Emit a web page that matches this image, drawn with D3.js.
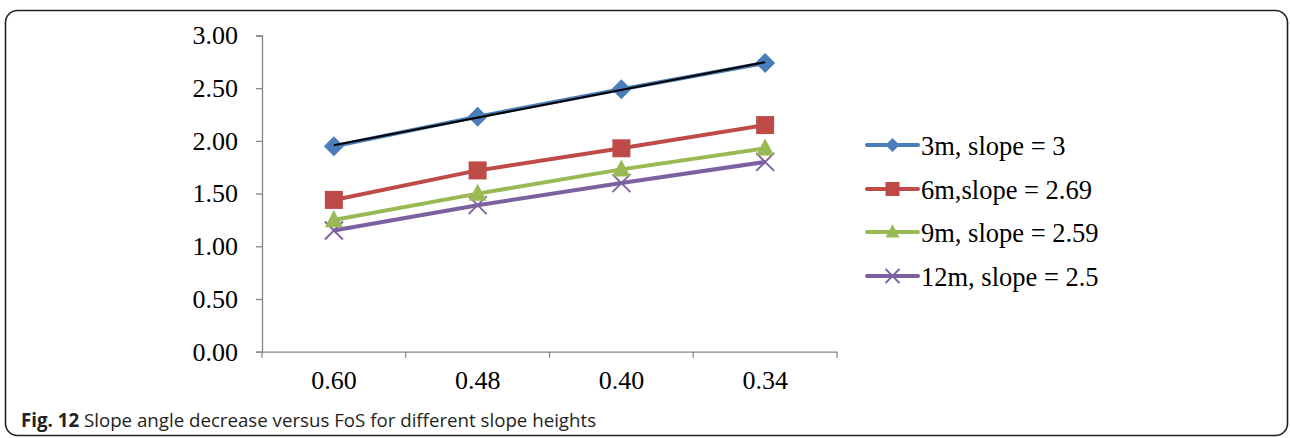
<!DOCTYPE html>
<html><head><meta charset="utf-8">
<script src="https://cdn.jsdelivr.net/npm/d3@7"></script>
<style>
html,body{margin:0;padding:0;background:#fff;}
svg{display:block;}
</style></head>
<body>
<svg id="chart" width="1290" height="438"></svg>
<script>
const categories = ["0.60","0.48","0.40","0.34"];
const seriesNames = ["3m, slope = 3","6m,slope = 2.69","9m, slope = 2.59","12m, slope = 2.5"];
const values3m  = [1.95, 2.23, 2.49, 2.74];
const values6m  = [1.44, 1.72, 1.93, 2.15];
const values9m  = [1.25, 1.50, 1.73, 1.93];
const values12m = [1.15, 1.39, 1.60, 1.80];
const yTicks = [0, 0.5, 1.0, 1.5, 2.0, 2.5, 3.0];
const colors = ["#4a7ebb","#be4b48","#98b954","#7d60a0"];
const symbols = ["diamond","square","triangle","cross"];

const series = seriesNames.map((n,i)=>({name:n, values:[values3m,values6m,values9m,values12m][i], color:colors[i], sym:symbols[i]}));

const svg = d3.select("#chart");
// frame
svg.append("rect").attr("x",5.5).attr("y",10.5).attr("width",1282).attr("height",425)
  .attr("rx",12).attr("fill","none").attr("stroke","#231f20").attr("stroke-width",1.6);

const x0 = 262, x1 = 837, yTop = 35.5, yBot = 351.7;
const x = d3.scaleBand().domain(categories).range([x0,x1]);
const y = d3.scaleLinear().domain([0,3]).range([yBot,yTop]);
const axisColor = "#868686";
const font = "'Liberation Serif','Times New Roman',serif";

// y axis
const yAxis = svg.append("g").attr("transform",`translate(${x0},0)`)
  .call(d3.axisLeft(y).tickValues(yTicks).tickFormat(d3.format(".2f")).tickSize(6).tickPadding(18));
yAxis.select(".domain").attr("stroke",axisColor).attr("stroke-width",1.3);
yAxis.selectAll(".tick line").attr("stroke",axisColor).attr("stroke-width",1.3);
yAxis.selectAll("text").attr("font-family",font).attr("font-size",26).attr("fill","#000").attr("dy","0.32em");

// x axis
const xAxis = svg.append("g").attr("transform",`translate(0,${yBot})`)
  .call(d3.axisBottom(x).tickSize(0).tickPadding(19));
xAxis.select(".domain").attr("stroke",axisColor).attr("stroke-width",1.3);
xAxis.selectAll("text").attr("font-family",font).attr("font-size",26).attr("fill","#000");
// category boundary ticks
const bounds = categories.map(c=>x(c)).concat([x1]);
xAxis.selectAll(".bt").data(bounds).enter().append("line")
  .attr("x1",d=>d).attr("x2",d=>d).attr("y1",0).attr("y2",6)
  .attr("stroke",axisColor).attr("stroke-width",1.3);

const cx = c => x(c) + x.bandwidth()/2;

function drawMarker(g, sym, color, px, py, s){
  if(sym==="diamond"){
    g.append("path").attr("d",`M${px},${py-s}L${px+s},${py}L${px},${py+s}L${px-s},${py}Z`).attr("fill",color);
  } else if(sym==="square"){
    g.append("rect").attr("x",px-s).attr("y",py-s).attr("width",2*s).attr("height",2*s).attr("fill",color);
  } else if(sym==="triangle"){
    g.append("path").attr("d",`M${px},${py-s*1.1}L${px+s},${py+s*0.8}L${px-s},${py+s*0.8}Z`).attr("fill",color);
  } else {
    g.append("path").attr("d",`M${px-s},${py-s}L${px+s},${py+s}M${px-s},${py+s}L${px+s},${py-s}`)
      .attr("stroke",color).attr("stroke-width",1.8).attr("fill","none");
  }
}

const line = d3.line().x((d,i)=>cx(categories[i])).y(d=>y(d));
const plot = svg.append("g");
series.slice().reverse().forEach(s=>{
  plot.append("path").datum(s.values).attr("d",line).attr("fill","none")
    .attr("stroke",s.color).attr("stroke-width",4).attr("stroke-linejoin","round");
  s.values.forEach((v,i)=>drawMarker(plot, s.sym, s.color, cx(categories[i]), y(v), s.sym==="diamond"?10:9));
});

// linear trend line on 3m series
const xs = values3m.map((v,i)=>i);
const mx = d3.mean(xs), my = d3.mean(values3m);
const slope = d3.sum(xs.map((xi,i)=>(xi-mx)*(values3m[i]-my))) / d3.sum(xs.map(xi=>(xi-mx)**2));
const icpt = my - slope*mx;
plot.append("line")
  .attr("x1",cx(categories[0])).attr("y1",y(icpt))
  .attr("x2",cx(categories[3])).attr("y2",y(icpt+slope*3))
  .attr("stroke","#000").attr("stroke-width",2);

// legend
const legY = [145,189,232,276];
const leg = svg.append("g");
series.forEach((s,i)=>{
  const g = leg.append("g");
  g.append("line").attr("x1",867).attr("x2",918).attr("y1",legY[i]).attr("y2",legY[i])
    .attr("stroke",s.color).attr("stroke-width",4).attr("stroke-linecap","round");
  drawMarker(g, s.sym, s.color, 892.5, legY[i], 7);
  g.append("text").attr("x",921).attr("y",legY[i]).attr("dy","0.36em")
    .attr("font-family",font).attr("font-size",26.5).text(s.name);
});

// caption
const cap = svg.append("text").attr("x",21).attr("y",427)
  .attr("font-family","'Open Sans','Noto Sans',sans-serif").attr("font-size",18.7).attr("fill","#231f20");
cap.append("tspan").attr("font-weight","bold").text("Fig. 12");
cap.append("tspan").text(" Slope angle decrease versus FoS for different slope heights");
</script>
</body></html>
